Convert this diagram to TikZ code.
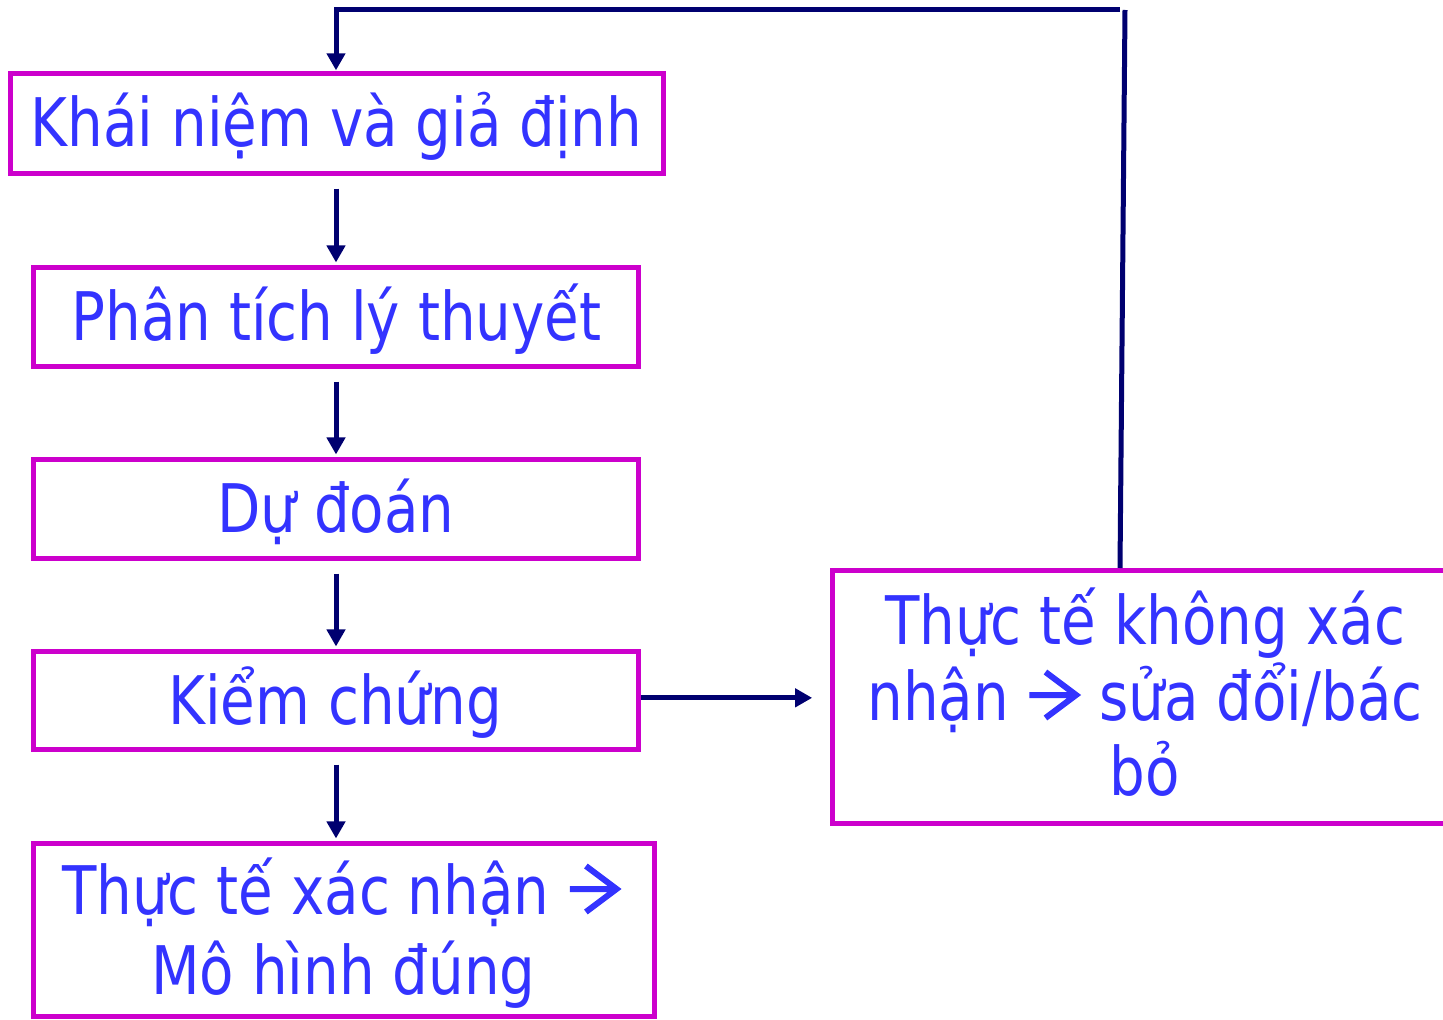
\documentclass[tikz,border=0pt]{standalone}
\usepackage{fontspec}
\setmainfont{DejaVu Sans}[FakeStretch=0.84]
\usetikzlibrary{arrows.meta}

\definecolor{boxline}{HTML}{CC00CC}
\definecolor{flowline}{HTML}{000070}
\definecolor{labeltext}{HTML}{3333FF}

% large open-headed arrow used inside the labels
\newcommand{\implarrow}{%
  \begin{pgfpicture}%
    \pgfsetbaseline{0pt}%
    \pgfpathrectangle{\pgfpoint{-1pt}{0pt}}{\pgfpoint{41pt}{36pt}}%
    \pgfusepath{use as bounding box}%
    \pgfsetstrokecolor{labeltext}%
    \pgfsetlinewidth{4.5pt}%
    \pgfsetbuttcap
    \pgfsetmiterjoin
    \pgfpathmoveto{\pgfpoint{1pt}{18.75pt}}%
    \pgfpathlineto{\pgfpoint{33pt}{18.75pt}}%
    \pgfpathmoveto{\pgfpoint{13pt}{36pt}}%
    \pgfpathlineto{\pgfpoint{36pt}{18.75pt}}%
    \pgfpathlineto{\pgfpoint{13pt}{1.5pt}}%
    \pgfusepath{stroke}%
  \end{pgfpicture}}

\tikzset{
  stagebox/.style={draw=boxline, line width=3.75pt, fill=white, inner sep=0pt},
  label/.style={text=labeltext, font=\fontsize{50.25}{59}\selectfont, inner sep=0pt, anchor=base, align=center},
  flow/.style={draw=flowline, line width=3.75pt},
  flowarrow/.style={flow, -{Triangle[length=12.75pt,width=13.5pt]}},
}

\begin{document}
\begin{tikzpicture}[x=0.75pt, y=-0.75pt]
  \useasboundingbox (0,0) rectangle (1443,1020);
  \clip (0,0) rectangle (1443,1020);

  % stage boxes
  \node[stagebox, minimum width=653pt*0.75, minimum height=100pt*0.75] (b1) at (337,123.5) {};
  \node[stagebox, minimum width=605pt*0.75, minimum height=99pt*0.75]  (b2) at (336,317) {};
  \node[stagebox, minimum width=605pt*0.75, minimum height=99pt*0.75]  (b3) at (336,509) {};
  \node[stagebox, minimum width=605pt*0.75, minimum height=98pt*0.75]  (b4) at (336,700.5) {};
  \node[stagebox, minimum width=621pt*0.75, minimum height=173pt*0.75] (b5) at (344,930) {};
  \node[stagebox, minimum width=626pt*0.75, minimum height=253pt*0.75] (b6) at (1145,697) {};

  % labels
  \node[label] (t1) at (336.5,147) {Khái niệm và giả định};
  \node[label] (t2) at (336.5,340) {Phân tích lý thuyết};
  \node[label] (t3) at (336,532) {Dự đoán};
  \node[label] (t4) at (335,724) {Kiểm chứng};
  \node[label] (t5a) at (342,914) {Thực tế xác nhận \implarrow};
  \node[label] (t5b) at (343.5,994) {Mô hình đúng};
  \node[label] (t6a) at (1145,644) {Thực tế không xác};
  \node[label] (t6b) at (1145,720) {nhận \implarrow{} sửa đổi/bác};
  \node[label] (t6c) at (1145,795) {bỏ};

  % main chain
  \draw[flowarrow, shorten <=9.4pt, shorten >=1.9pt] (b1.south -| b2.north) -- (b2.north);
  \draw[flowarrow, shorten <=9.4pt, shorten >=1.9pt] (b2.south) -- (b3.north);
  \draw[flowarrow, shorten <=9.4pt, shorten >=1.9pt] (b3.south) -- (b4.north);
  \draw[flowarrow, shorten <=9.4pt, shorten >=1.9pt] (b4.south) -- (b4.south |- b5.north);

  % branch to rejection
  \draw[flowarrow, shorten >=13pt] ([yshift=2pt]b4.east) -- ([yshift=2pt]b4.east -| b6.west);

  % feedback loop
  \coordinate (fbtop) at (1125,10);
  \coordinate (fbend) at (1120,10);
  \coordinate (fbleft) at (336,10);
  \draw[flow] ([xshift=-18.75pt]b6.north) -- (fbtop);
  \draw[flowarrow, shorten >=0.5pt] (fbend) -- (fbleft) -- (fbleft |- b1.north);
\end{tikzpicture}
\end{document}
